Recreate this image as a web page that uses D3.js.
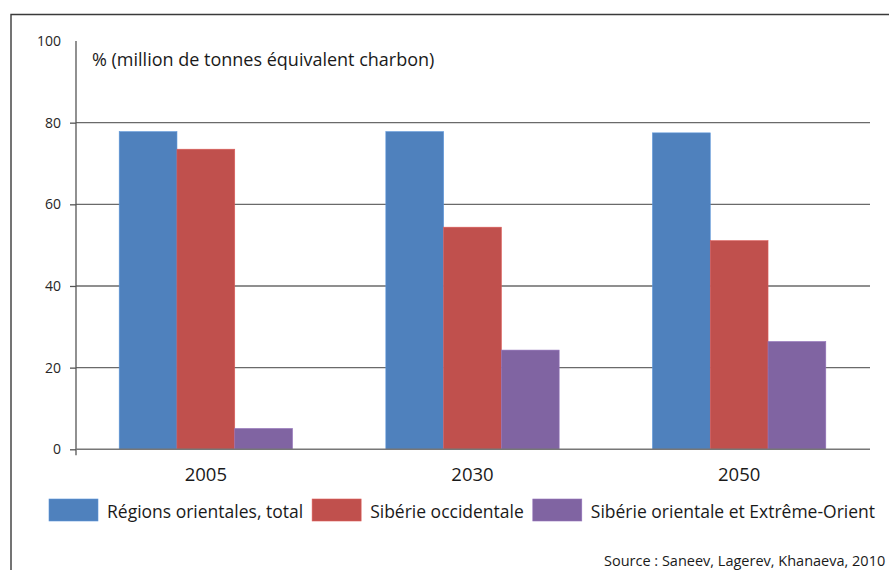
<!DOCTYPE html>
<html><head><meta charset="utf-8">
<script src="https://cdn.jsdelivr.net/npm/d3@7"></script>
<style>
html,body{margin:0;padding:0;background:#fff;overflow:hidden;}
svg{display:block;font-family:"Open Sans",sans-serif;}
</style></head>
<body>
<svg id="c" width="889" height="570"></svg>
<script>
const categories = ["2005", "2030", "2050"];
const seriesNames = ["Régions orientales, total", "Sibérie occidentale", "Sibérie orientale et Extrême-Orient"];
const regionsOrientales = [77.8, 77.8, 77.5];
const siberieOccidentale = [73.5, 54.4, 51.1];
const siberieOrientaleExtremeOrient = [5.1, 24.3, 26.4];
const yTicks = [0, 20, 40, 60, 80, 100];
const colors = ["#4F81BD", "#C0504D", "#8064A2"];
const unitLabel = "% (million de tonnes équivalent charbon)";
const sourceLabel = "Source : Saneev, Lagerev, Khanaeva, 2010";

const series = [regionsOrientales, siberieOccidentale, siberieOrientaleExtremeOrient];
const svg = d3.select("#c");

// outer frame (top and left edges)
svg.append("path").attr("d", "M11,570 V14.5 H889").attr("fill", "none")
  .attr("stroke", "#3a3a3a").attr("stroke-width", 1.4);

const x0 = 76, x1 = 869, yBase = 449.3, yTop = 41;
const y = d3.scaleLinear().domain([0, 100]).range([yBase, yTop]);
const xb = d3.scaleBand().domain(categories).range([x0, x1]).paddingInner(0.35).paddingOuter(0.162);
const xs = d3.scaleBand().domain(d3.range(series.length)).range([0, xb.bandwidth()]);

// gridlines
svg.append("g").selectAll("line").data(yTicks.filter(t => t > 0 && t < 100)).join("line")
  .attr("x1", x0).attr("x2", x1 + 1).attr("y1", d => y(d)).attr("y2", d => y(d))
  .attr("stroke", "#6a6a6a").attr("stroke-width", 1.3);

// y axis
const yAxis = d3.axisLeft(y).tickValues(yTicks.filter(t => t < 100)).tickSize(6).tickFormat("");
const ga = svg.append("g").attr("transform", `translate(${x0},0)`).call(yAxis);
ga.select(".domain").remove();
ga.selectAll(".tick line").attr("stroke", "#555").attr("stroke-width", 1.3);
svg.append("line").attr("x1", x0).attr("x2", x0).attr("y1", yTop).attr("y2", yBase + 6)
  .attr("stroke", "#555").attr("stroke-width", 1.3);

svg.append("g").selectAll("text").data(yTicks).join("text")
  .attr("x", 61).attr("y", d => y(d)).attr("dy", "0.35em").attr("text-anchor", "end")
  .attr("font-size", 14).attr("fill", "#262626").text(d => d);

// bars
const gb = svg.append("g");
categories.forEach((c, i) => {
  series.forEach((s, j) => {
    gb.append("rect")
      .attr("x", xb(c) + xs(j)).attr("width", xs.bandwidth())
      .attr("y", y(s[i])).attr("height", yBase - y(s[i]))
      .attr("fill", colors[j]).attr("stroke", d3.color(colors[j]).brighter(0.4)).attr("stroke-width", 0.6);
  });
});

// x baseline
svg.append("line").attr("x1", x0).attr("x2", x1 + 1).attr("y1", yBase).attr("y2", yBase)
  .attr("stroke", "#777").attr("stroke-width", 1.4);

// category labels
const xAxis = d3.axisBottom(xb).tickSize(0).tickPadding(0);
const gx = svg.append("g").attr("transform", `translate(0,${yBase})`).call(xAxis);
gx.select(".domain").remove();
gx.selectAll("text").attr("font-family", "'Open Sans',sans-serif").attr("font-size", 18.5)
  .attr("fill", "#1a1a1a").attr("dy", null).attr("y", 32);

// unit label
svg.append("text").attr("x", 92).attr("y", 66).attr("font-size", 18).attr("fill", "#1a1a1a").text(unitLabel);

// legend
const lg = svg.append("g");
let lx = 49;
seriesNames.forEach((n, j) => {
  lg.append("rect").attr("x", lx).attr("y", 499).attr("width", 49).attr("height", 22)
    .attr("fill", colors[j]).attr("stroke", d3.color(colors[j]).brighter(0.4)).attr("stroke-width", 0.6);
  const t = lg.append("text").attr("x", lx + 58).attr("y", 518).attr("font-size", 17.5)
    .attr("fill", "#1a1a1a").text(n);
  lx += 58 + t.node().getComputedTextLength() + 9;
});

// source
svg.append("text").attr("x", 604).attr("y", 566).attr("font-size", 14.5).attr("fill", "#1a1a1a").text(sourceLabel);
</script>
</body></html>
